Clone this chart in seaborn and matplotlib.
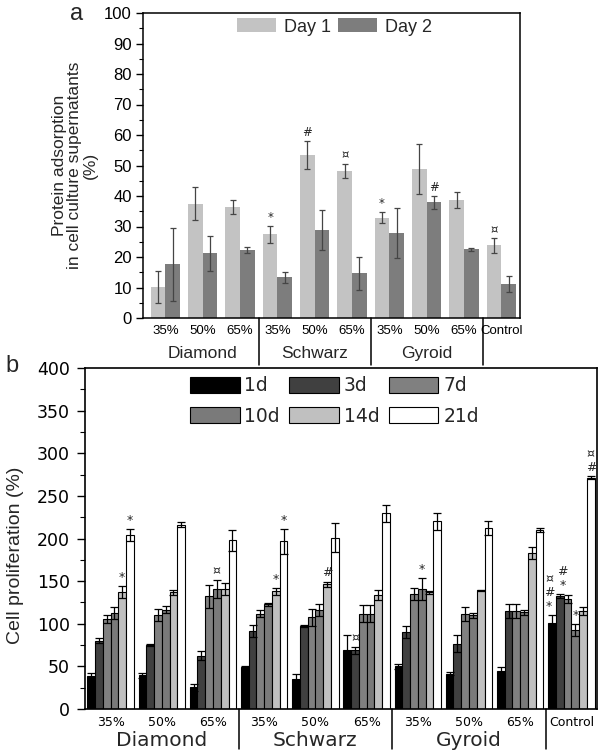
import pandas as pd
import matplotlib
matplotlib.use("Agg")
import matplotlib.pyplot as plt
import matplotlib.transforms as mtransforms
from matplotlib.patches import Patch
from matplotlib.ticker import MultipleLocator
import seaborn as sns

sns.set_theme(style="ticks")
plt.rcParams['font.family'] = ['Liberation Sans', 'DejaVu Sans']
plt.rcParams['axes.edgecolor'] = 'black'
plt.rcParams['xtick.color'] = 'black'
plt.rcParams['ytick.color'] = 'black'

# shared categories
groups = ['D35', 'D50', 'D65', 'S35', 'S50', 'S65', 'G35', 'G50', 'G65', 'Ctrl']
tick_labels = ['35%', '50%', '65%'] * 3 + ['Control']
families = ['Diamond', 'Schwarz', 'Gyroid']

# panel a: protein adsorption (%)
days = ['Day 1', 'Day 2']
day1 = [10.2, 37.5, 36.5, 27.5, 53.3, 48.2, 32.8, 48.8, 38.8, 23.8]
day1_err = [5.2, 5.4, 2.3, 2.8, 4.6, 2.4, 1.8, 8.2, 2.6, 2.4]
day2 = [17.6, 21.2, 22.3, 13.3, 28.9, 14.6, 28.0, 37.9, 22.5, 11.1]
day2_err = [12.0, 5.7, 0.9, 1.8, 6.6, 5.4, 8.2, 2.0, 0.5, 2.7]
marks_a = [(0, 3, '*'), (0, 4, '#'), (0, 5, '¤'), (0, 6, '*'), (1, 7, '#'), (0, 9, '¤')]

# panel b: cell proliferation (%)
times = ['1d', '3d', '7d', '10d', '14d', '21d']
d1 = [38.2, 39.8, 25.4, 48.8, 35.2, 68.7, 50.0, 41.4, 44.9, 100.4]
d1_err = [4, 3, 4, 1.5, 6, 18, 3, 2, 4, 10]
d3 = [80.0, 75.4, 62.5, 91.0, 97.6, 68.7, 89.8, 76.6, 115.2, 132.5]
d3_err = [3, 1, 5, 7, 1, 4.5, 7, 10, 8, 2]
d7 = [105.5, 110.0, 132.0, 111.7, 107.8, 111.7, 135.0, 111.7, 115.0, 129.3]
d7_err = [5, 7, 13, 4, 10, 10, 7, 8, 8, 5]
d10 = [112.5, 116.4, 140.7, 122.6, 115.6, 111.7, 141.0, 110.0, 113.2, 92.6]
d10_err = [7, 4, 11, 2, 7, 10, 13, 3, 3, 7]
d14 = [136.7, 136.7, 140.7, 137.9, 146.5, 133.6, 136.7, 139.5, 182.8, 114.9]
d14_err = [7, 3, 7, 4, 3, 6, 2, 0.5, 7, 5]
d21 = [204.0, 216.0, 197.7, 196.5, 200.6, 229.7, 220.4, 212.5, 209.8, 271.5]
d21_err = [7, 3, 12, 15, 17, 10, 10, 8, 2, 2]
marks_b = [(4, 0, '*'), (5, 0, '*'), (3, 2, '¤'), (4, 3, '*'), (5, 3, '*'), (4, 4, '#'),
           (1, 5, '¤'), (3, 6, '*'), (0, 9, '¤\n#\n*'), (1, 9, '#\n*'), (3, 9, '*'),
           (5, 9, '¤\n#')]
# small sideways nudges (points) for the crowded control stacks
nudge_b = {(0, 9): -2.0, (1, 9): 2.0}

colors_a = ['#c3c3c3', '#7d7d7d']
colors_b = ['#000000', '#404040', '#808080', '#7a7a7a', '#c0c0c0', '#ffffff']

W, H = 607, 755
fig = plt.figure(figsize=(W / 100, H / 100), dpi=100)
ax_a = fig.add_axes([143 / W, 1 - 318 / H, 377 / W, 305 / H])
ax_b = fig.add_axes([85 / W, 1 - 709 / H, 512 / W, 341 / H])


def add_errors(ax, series, errors, color, capsize, lw):
    for cont, vals, errs in zip(ax.containers, series, errors):
        xs = [b.get_x() + b.get_width() / 2 for b in cont]
        ax.errorbar(xs, vals, yerr=errs, fmt='none', ecolor=color,
                    elinewidth=lw, capsize=capsize, capthick=lw, zorder=3)


def add_marks(ax, marks, series, errors, fontsize, nudge=None):
    nudge = nudge or {}
    for hue_i, grp_i, txt in marks:
        bar = ax.containers[hue_i][grp_i]
        x = bar.get_x() + bar.get_width() / 2
        y = series[hue_i][grp_i] + errors[hue_i][grp_i]
        dx = nudge.get((hue_i, grp_i), 0)
        ax.annotate(txt, (x, y), xytext=(dx, 1.5), textcoords='offset points',
                    ha='center', va='bottom', fontsize=fontsize, linespacing=1.1,
                    family=['DejaVu Sans'])


def group_axis(ax, sep_depth, label_y, fontsize, family):
    trans = mtransforms.blended_transform_factory(ax.transData, ax.transAxes)
    for xs in [2.5, 5.5, 8.5]:
        ax.plot([xs, xs], [0, -sep_depth], transform=trans, color='black', lw=1.1,
                clip_on=False)
    for i, name in enumerate(families):
        ax.text(3 * i + 1, label_y, name, transform=trans, ha='center', va='center',
                fontsize=fontsize, family=family)


# ---- panel a ----
df_a = pd.DataFrame({'group': groups * 2,
                     'day': [days[0]] * 10 + [days[1]] * 10,
                     'value': day1 + day2})
sns.barplot(data=df_a, x='group', y='value', hue='day', order=groups, hue_order=days,
            palette=colors_a, saturation=1, errorbar=None, width=0.78, gap=0,
            linewidth=0, legend=False, ax=ax_a)
series_a, errors_a = [day1, day2], [day1_err, day2_err]
add_errors(ax_a, series_a, errors_a, '#454545', 2.5, 0.9)
add_marks(ax_a, marks_a, series_a, errors_a, 8.5)

ax_a.set_xlim(-0.6, 9.5)
ax_a.set_ylim(0, 100)
ax_a.yaxis.set_major_locator(MultipleLocator(10))
ax_a.yaxis.set_minor_locator(MultipleLocator(5))
ax_a.set_xticks(range(10))
ax_a.set_xticklabels(tick_labels, fontsize=9.5)
ax_a.tick_params(axis='x', length=0, pad=5)
ax_a.tick_params(axis='y', which='major', length=5, width=1, labelsize=12, pad=3)
ax_a.tick_params(axis='y', which='minor', length=3, width=0.8)
ax_a.set_xlabel('')
ax_a.set_ylabel('Protein adsorption\nin cell culture supernatants\n(%)', fontsize=12.5,
                linespacing=1.05)
ax_a.yaxis.set_label_coords(-0.12, 0.5)
for sp in ax_a.spines.values():
    sp.set_linewidth(1.1)
group_axis(ax_a, 0.155, -0.118, 12.5, ['Liberation Sans'])
handles_a = [Patch(facecolor=c, edgecolor='none', label=l) for c, l in zip(colors_a, days)]
ax_a.legend(handles=handles_a, ncol=2, loc='upper center', bbox_to_anchor=(0.507, 1.0),
            frameon=False, fontsize=13, handlelength=2.2, handleheight=0.8,
            handletextpad=0.4, columnspacing=0.4, borderaxespad=0.1, borderpad=0.2)
fig.text(77 / W, 1 - 14 / H, 'a', fontsize=17, ha='center', va='center')

# ---- panel b ----
series_b = [d1, d3, d7, d10, d14, d21]
errors_b = [d1_err, d3_err, d7_err, d10_err, d14_err, d21_err]
df_b = pd.DataFrame({'group': groups * 6,
                     'time': [t for t in times for _ in groups],
                     'value': sum(series_b, [])})
sns.barplot(data=df_b, x='group', y='value', hue='time', order=groups, hue_order=times,
            palette=colors_b, saturation=1, errorbar=None, width=0.91, gap=0,
            edgecolor='black', linewidth=0.8, legend=False, ax=ax_b)
add_errors(ax_b, series_b, errors_b, 'black', 2.9, 0.9)
add_marks(ax_b, marks_b, series_b, errors_b, 9, nudge_b)

ax_b.set_xlim(-0.5, 9.5)
ax_b.set_ylim(0, 400)
ax_b.yaxis.set_major_locator(MultipleLocator(50))
ax_b.yaxis.set_minor_locator(MultipleLocator(25))
ax_b.set_xticks(range(10))
ax_b.set_xticklabels(tick_labels, fontsize=9, family=['DejaVu Sans'])
ax_b.tick_params(axis='x', length=0, pad=5)
ax_b.tick_params(axis='y', which='major', length=6, width=1, labelsize=12.5, pad=5)
ax_b.tick_params(axis='y', which='minor', length=3.5, width=0.8)
for lab in ax_b.get_yticklabels():
    lab.set_family(['DejaVu Sans'])
ax_b.set_xlabel('')
ax_b.set_ylabel('Cell proliferation (%)', fontsize=14, family=['Liberation Sans'])
ax_b.yaxis.set_label_coords(-0.12, 0.45)
for sp in ax_b.spines.values():
    sp.set_linewidth(1.2)
group_axis(ax_b, 0.117, -0.091, 14.5, ['DejaVu Sans'])
# column-major fill: pair rows so that first row reads 1d 3d 7d
order = [0, 3, 1, 4, 2, 5]
handles_b = [Patch(facecolor=colors_b[i], edgecolor='black', linewidth=0.8, label=times[i])
             for i in order]
ax_b.legend(handles=handles_b, ncol=3, loc='upper center', bbox_to_anchor=(0.487, 1.0),
            frameon=False, prop={'family': 'DejaVu Sans', 'size': 13.5},
            handlelength=2.65, handleheight=0.9, handletextpad=0.25, columnspacing=0.5,
            labelspacing=0.6, borderaxespad=0.05, borderpad=0.4)
fig.text(12 / W, 1 - 366 / H, 'b', fontsize=17, ha='center', va='center')

fig.savefig('out.png', dpi=100)
